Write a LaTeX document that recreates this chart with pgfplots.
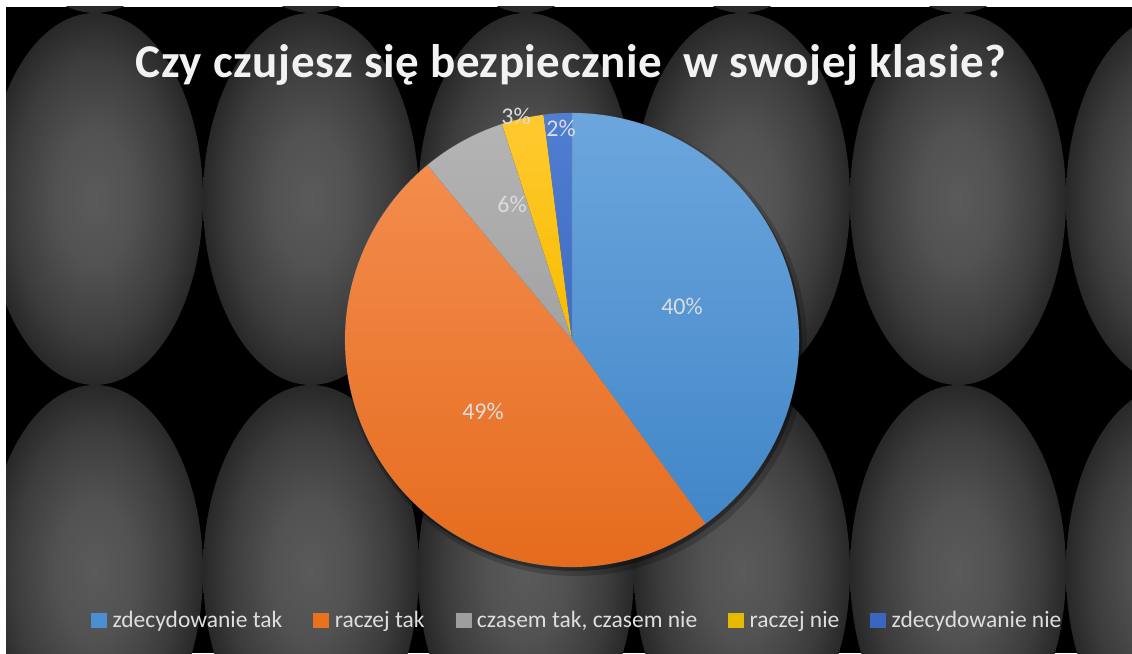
\documentclass[border=0pt]{standalone}
\usepackage{fontspec}
\setmainfont{Carlito}
\newfontfamily\titlefont[LetterSpace=1.2]{Carlito}
\usepackage{pgfplots}
\pgfplotsset{compat=1.18}
\definecolor{eA}{HTML}{5A5A5A}
\definecolor{eB}{HTML}{525252}
\definecolor{eC}{HTML}{3C3C3C}
\definecolor{eOut}{HTML}{282828}
\pgfdeclareradialshading{ellgrad}{\pgfpoint{0bp}{0bp}}{color(0bp)=(eA); color(9bp)=(eB); color(19bp)=(eC); color(25bp)=(eOut); color(50bp)=(eOut)}
\definecolor{bT}{HTML}{6CA6DD}\definecolor{bB}{HTML}{4186C8}
\definecolor{oT}{HTML}{F38C4D}\definecolor{oB}{HTML}{E4691A}
\definecolor{gT}{HTML}{B4B4B4}\definecolor{gB}{HTML}{A2A2A2}
\definecolor{yT}{HTML}{FFCA30}\definecolor{yB}{HTML}{F8BC00}
\definecolor{dT}{HTML}{4F7ED3}\definecolor{dB}{HTML}{3F6CC0}
\definecolor{lA}{HTML}{4B8ED2}\definecolor{lB}{HTML}{E8721F}
\definecolor{lC}{HTML}{9E9E9E}\definecolor{lD}{HTML}{E6B800}
\definecolor{lE}{HTML}{3A66C2}
\definecolor{labtxt}{HTML}{DCDCDC}
\definecolor{legtxt}{HTML}{DEDEDE}
% data (percent)
\def\pA{40}\def\pB{49}\def\pC{6}\def\pD{3}\def\pE{2}
\begin{document}
\begin{tikzpicture}
\begin{axis}[x=1pt, y=1pt, xmin=0, xmax=1132, ymin=0, ymax=653,
  hide axis, clip=false,
  legend columns=5,
  legend style={at={(0.5100,0.0505)}, anchor=center, draw=none, fill=none,
    text=legtxt, font=\fontsize{23.5}{28}\selectfont,
    /tikz/every odd column/.append style={column sep=4pt},
    /tikz/every even column/.append style={column sep=29pt}},
  legend cell align=left]
\fill[white] (axis cs:0,0) rectangle (axis cs:1132,653);
\fill[black] (axis cs:6,0) rectangle (axis cs:1132,646);
\begin{scope}
\clip (axis cs:6,0) rectangle (axis cs:1132,646);
\pgfplotsforeachungrouped \cy in {826,454,82}{%
  \pgfplotsforeachungrouped \cx in {95,311,526,742,958,1174}{%
    \edef\temp{\noexpand\shade[shading=ellgrad] (axis cs:\cx,\cy) ellipse [x radius=108pt, y radius=186pt];}\temp
  }%
}
\end{scope}
% pie shadow
\fill[black, opacity=0.2] (axis cs:576,308) circle[radius=231pt];
\fill[black, opacity=0.35] (axis cs:574,310) circle[radius=228pt];
% slices
\shadedraw[top color=bT, bottom color=bB, draw=black!40, draw opacity=0.25, line width=0.6pt]
  (axis cs:572,313) -- ++(90:227pt) arc[start angle=90, delta angle={-3.6*\pA}, radius=227pt] -- cycle;
\shadedraw[top color=oT, bottom color=oB, draw=black!40, draw opacity=0.25, line width=0.6pt]
  (axis cs:572,313) -- ++({90-3.6*\pA}:227pt) arc[start angle={90-3.6*\pA}, delta angle={-3.6*\pB}, radius=227pt] -- cycle;
\shadedraw[top color=gT, bottom color=gB, draw=black!40, draw opacity=0.25, line width=0.6pt]
  (axis cs:572,313) -- ++({90-3.6*(\pA+\pB)}:227pt) arc[start angle={90-3.6*(\pA+\pB)}, delta angle={-3.6*\pC}, radius=227pt] -- cycle;
\shadedraw[top color=yT, bottom color=yB, draw=black!40, draw opacity=0.25, line width=0.6pt]
  (axis cs:572,313) -- ++({90-3.6*(\pA+\pB+\pC)}:227pt) arc[start angle={90-3.6*(\pA+\pB+\pC)}, delta angle={-3.6*\pD}, radius=227pt] -- cycle;
\shadedraw[top color=dT, bottom color=dB, draw=black!40, draw opacity=0.25, line width=0.6pt]
  (axis cs:572,313) -- ++({90-3.6*(\pA+\pB+\pC+\pD)}:227pt) arc[start angle={90-3.6*(\pA+\pB+\pC+\pD)}, delta angle={-3.6*\pE}, radius=227pt] -- cycle;
% data labels
\begin{scope}[every node/.style={font=\fontsize{24}{28}\selectfont, text=labtxt, inner sep=0pt}]
\node at (axis cs:682,347) {40\%};
\node at (axis cs:483,242) {49\%};
\node at (axis cs:512,449) {6\%};
\node at (axis cs:516,537) {3\%};
\node at (axis cs:561,525) {2\%};
\end{scope}
% title
\node[anchor=base, font=\titlefont\bfseries\fontsize{47}{56}\selectfont, text=white!95!black] at (axis cs:571,575) {Czy czujesz się bezpiecznie\hspace{10pt} w swojej klasie?};
% legend
\addlegendimage{legend image code/.code={\fill[lA] (0pt,-7pt) rectangle (15pt,7pt);}}
\addlegendentry{zdecydowanie tak}
\addlegendimage{legend image code/.code={\fill[lB] (0pt,-7pt) rectangle (15pt,7pt);}}
\addlegendentry{raczej tak}
\addlegendimage{legend image code/.code={\fill[lC] (0pt,-7pt) rectangle (15pt,7pt);}}
\addlegendentry{czasem tak, czasem nie}
\addlegendimage{legend image code/.code={\fill[lD] (0pt,-7pt) rectangle (15pt,7pt);}}
\addlegendentry{raczej nie}
\addlegendimage{legend image code/.code={\fill[lE] (0pt,-7pt) rectangle (15pt,7pt);}}
\addlegendentry{zdecydowanie nie}
\end{axis}
\end{tikzpicture}
\end{document}
